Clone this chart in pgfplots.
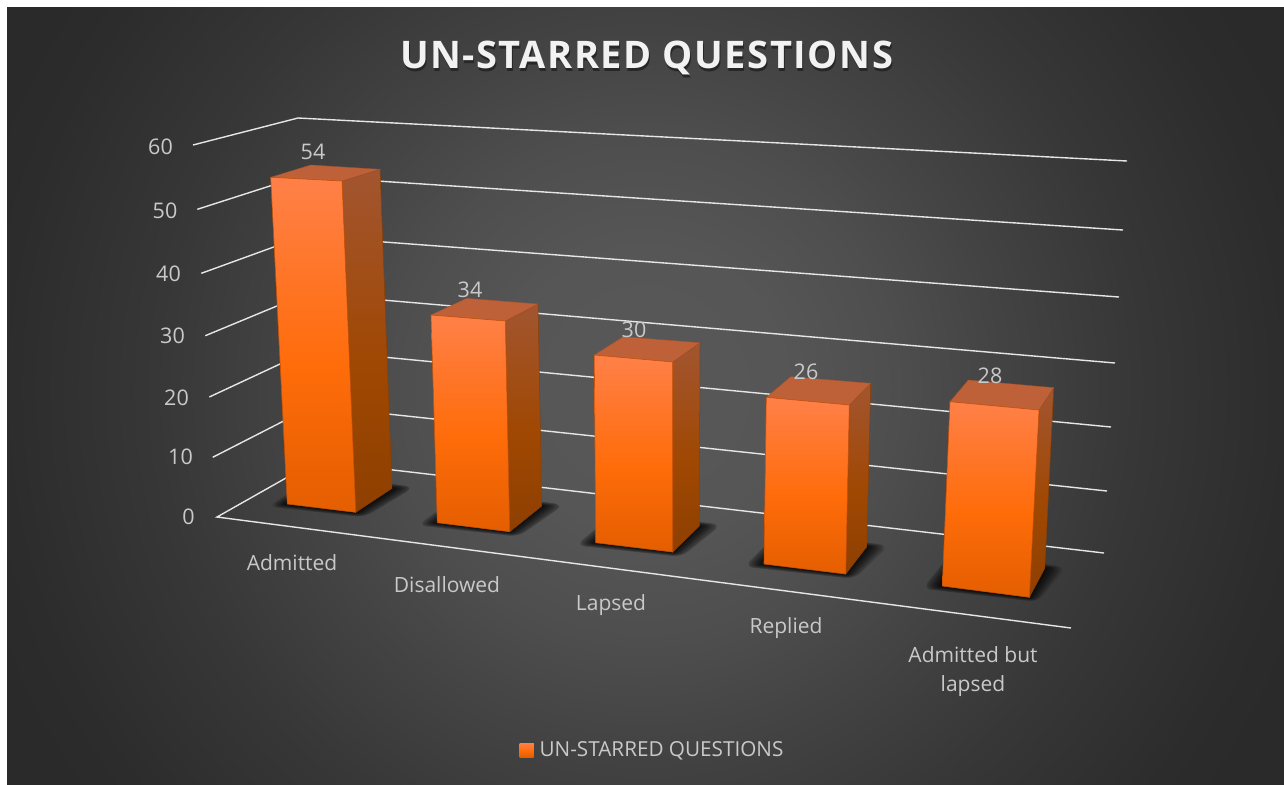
\documentclass[border=0pt]{standalone}
\usepackage{pgfplots}
\usepackage{pgfplotstable}
\usepackage{fontspec}
\pgfplotsset{compat=1.18}
\setmainfont{Open Sans}
\newfontfamily\titlefont[LetterSpace=4]{Open Sans}
\definecolor{txt}{HTML}{C9C9C9}
\definecolor{gridc}{HTML}{E6E6E6}
\definecolor{fA}{HTML}{FF8048}
\definecolor{fB}{HTML}{FF6C0A}
\definecolor{fC}{HTML}{E45E00}
\definecolor{sA}{HTML}{A25530}
\definecolor{sB}{HTML}{A04803}
\definecolor{sC}{HTML}{8E3F00}
\definecolor{topc}{HTML}{BF6138}
\definecolor{edgec}{HTML}{C85208}
\definecolor{bg0}{HTML}{585858}
\definecolor{bg1}{HTML}{565656}
\definecolor{bg2}{HTML}{4E4E4E}
\definecolor{bg3}{HTML}{444444}
\definecolor{bg4}{HTML}{373737}
\definecolor{bg5}{HTML}{2C2C2C}
\definecolor{bg6}{HTML}{2A2A2A}
\definecolor{titleshade}{HTML}{272727}
\pgfdeclareverticalshading{barfront}{100bp}{color(0bp)=(fC); color(25bp)=(fC); color(47bp)=(fB); color(75bp)=(fA); color(100bp)=(fA)}
\pgfdeclareverticalshading{barside}{100bp}{color(0bp)=(sC); color(25bp)=(sC); color(47bp)=(sB); color(75bp)=(sA); color(100bp)=(sA)}
\pgfdeclareradialshading{backdrop}{\pgfpoint{0bp}{0bp}}{color(0bp)=(bg0); color(5bp)=(bg1); color(9bp)=(bg2); color(12.5bp)=(bg3); color(17.5bp)=(bg4); color(23bp)=(bg5); color(25bp)=(bg6); color(50bp)=(bg6)}

% values and where each data label stands on the picture
\pgfplotstableread{
lx  ly  value name
313 152 54 Admitted
470 290 34 Disallowed
634 330 30 Lapsed
806 372 26 Replied
990 376 28 Admitted-but-lapsed
}\barvalues

% soft shadow on the floor: nested rounded quadrilaterals round a bar's foot,
% from the floor's grey (last argument, 0-255) towards near black
\newcommand{\footshadow}[7]{%
  \pgfmathsetmacro\bkx{#1+#5-#3}\pgfmathsetmacro\bky{#2+#6-#4}%
  \pgfplotsforeachungrouped \e in {22,21,20,19,18,17,16,15,14,13,12,11,10,9,8,7,6,5,4,3,2,1}{%
    \pgfmathsetmacro\ax{#1-0.9*\e}\pgfmathsetmacro\ay{#2+0.12*\e}%
    \pgfmathsetmacro\bx{#3+0.4*\e}\pgfmathsetmacro\by{#4+0.22*\e}%
    \pgfmathsetmacro\cx{#5+1.0*\e}\pgfmathsetmacro\cy{#6-0.05*\e}%
    \pgfmathsetmacro\dx{\bkx-0.2*\e}\pgfmathsetmacro\dy{\bky-0.3*\e}%
    \pgfmathsetmacro\rr{\e*0.4}%
    \pgfmathtruncatemacro\gv{#7*(1-0.78*(1-(\e/23)^1.4))}%
    \edef\temp{\noexpand\addplot[draw=none,fill={rgb,255:red,\gv;green,\gv;blue,\gv},rounded corners=\rr pt,forget plot] coordinates {(\ax,\ay)(\bx,\by)(\cx,\cy)(\dx,\dy)} -- cycle;}\temp
  }%
}
\newcommand{\threeDbar}[3]{% front, side, top
  \addplot[shading=barside,draw=sC,line width=0.5pt,forget plot] coordinates {#2} -- cycle;
  \addplot[fill=topc,draw=topc!85!black,line width=0.4pt,forget plot] coordinates {#3} -- cycle;
  \addplot[shading=barfront,draw=edgec,line width=0.6pt,forget plot] coordinates {#1} -- cycle;
}
\newcommand{\gridline}[1]{\addplot[gridc,line width=1.4pt,forget plot] coordinates {#1};}

\begin{document}
\begin{tikzpicture}
\useasboundingbox (0,0) rectangle (1284pt,784pt);
\begin{axis}[
  at={(0,0)},anchor=south west,
  scale only axis,width=1284pt,height=784pt,
  xmin=0,xmax=1284,ymin=0,ymax=784,y dir=reverse,
  hide axis,clip=false,clip limits=false,no markers,
  legend style={at={(axis cs:652.5,750)},anchor=center,draw=none,fill=none,
     text=txt,font=\fontsize{20.7}{24}\selectfont,inner sep=0pt,
     legend cell align=left,/tikz/every even column/.append style={column sep=0pt}},
  legend image code/.code={\path[shading=barfront] (0pt,-7pt) rectangle (14pt,7pt);},
]
% background: a round glow centred on the plot, then the white top and left margins
\addplot[shading=backdrop,draw=none,forget plot] coordinates {(-55,-310)(1345,-310)(1345,1090)(-55,1090)} -- cycle;
\addplot[fill=white,draw=none,forget plot] coordinates {(-60,-345)(1350,-345)(1350,7)(-60,7)} -- cycle;
\addplot[fill=white,draw=none,forget plot] coordinates {(-60,-345)(7,-345)(7,1095)(-60,1095)} -- cycle;

% side wall and back wall gridlines
\gridline{(193,145)(298,118)(1127,161)}
\gridline{(197.3,209.3)(301,176)(1123,230)}
\gridline{(201.3,273.3)(304,236)(1119,297)}
\gridline{(205.3,335.7)(307,293.5)(1115,363)}
\gridline{(209.3,397)(310,350)(1111,427)}
\gridline{(212.7,457.3)(313,406)(1107,491)}
\gridline{(1104,553)(316,461)(217,517)(1071,628)}

% shadows
\footshadow{287.3}{504}{355.7}{512.3}{392}{488.3}{64}
\footshadow{437.3}{522.7}{509.7}{531.7}{541.7}{506}{72}
\footshadow{595.7}{542.7}{672.7}{552}{699.3}{526}{74}
\footshadow{764}{564}{845.7}{574}{866.7}{546.7}{70}
\footshadow{942.3}{586}{1029.3}{597.3}{1044.7}{568.3}{60}

% bars
\threeDbar{(270.7,177.3)(342,181)(355.7,512.3)(287.3,504)}
          {(342,181)(380,169.3)(392,488.3)(355.7,512.3)}
          {(270.7,177.3)(310.7,165)(380,169.3)(342,181)}
\threeDbar{(431,315)(505.3,321)(509.7,531.7)(437.3,522.7)}
          {(505.3,321)(538,304)(541.7,506)(509.7,531.7)}
          {(431,315)(466.7,298.3)(538,304)(505.3,321)}
\threeDbar{(594.3,355)(672.7,362)(672.7,552)(595.7,542.7)}
          {(672.7,362)(700,342.7)(699.3,526)(672.7,552)}
          {(594.3,355)(623.3,336.7)(700,342.7)(672.7,362)}
\threeDbar{(766.3,397.3)(849.3,405)(845.7,574)(764,564)}
          {(849.3,405)(870.7,383.3)(866.7,546.7)(845.7,574)}
          {(766.3,397.3)(790.7,376.7)(870.7,383.3)(849.3,405)}
\threeDbar{(950,401.7)(1039,410)(1029.3,597.3)(942.3,586)}
          {(1039,410)(1053.7,387.7)(1044.7,568.3)(1029.3,597.3)}
          {(950,401.7)(968.3,380)(1053.7,387.7)(1039,410)}

% data labels
\addplot[only marks,mark=none,forget plot,
  nodes near coords,point meta=explicit symbolic,
  every node near coord/.style={anchor=center,text=txt,inner sep=0pt,
    font=\fontsize{21.5}{24}\selectfont}]
  table[x=lx,y=ly,meta=value] {\barvalues};

% legend entry
\addplot[draw=none,fill=fB] coordinates {(0,0)};
\addlegendentry{\hspace{4pt}UN-STARRED QUESTIONS}

% value axis labels
\begin{scope}[every node/.style={text=txt,inner sep=0pt,font=\fontsize{21.5}{24}\selectfont}]
\node at (axis cs:160.5,147) {60};
\node at (axis cs:165,211) {50};
\node at (axis cs:168.5,274) {40};
\node at (axis cs:172.5,336) {30};
\node at (axis cs:176.5,398) {20};
\node at (axis cs:180.5,457) {10};
\node at (axis cs:188.5,517) {0};
\end{scope}
\begin{scope}[every node/.style={text=txt,inner sep=0pt,font=\fontsize{21}{24}\selectfont}]
\node at (axis cs:292,563) {Admitted};
\node at (axis cs:447,585) {Disallowed};
\node at (axis cs:611,605.5) {Lapsed};
\node at (axis cs:786,628) {Replied};
\node at (axis cs:973,654.5) {Admitted but};
\node at (axis cs:973,686) {lapsed};
\end{scope}

% title with its soft shadow
\node[text=titleshade,inner sep=0pt,font=\fontsize{38}{44}\selectfont\titlefont\bfseries] at (axis cs:647.5,60.5) {UN-STARRED QUESTIONS};
\node[text=white!95!black,inner sep=0pt,font=\fontsize{38}{44}\selectfont\titlefont\bfseries] at (axis cs:646.5,58) {UN-STARRED QUESTIONS};
\end{axis}
\end{tikzpicture}
\end{document}
